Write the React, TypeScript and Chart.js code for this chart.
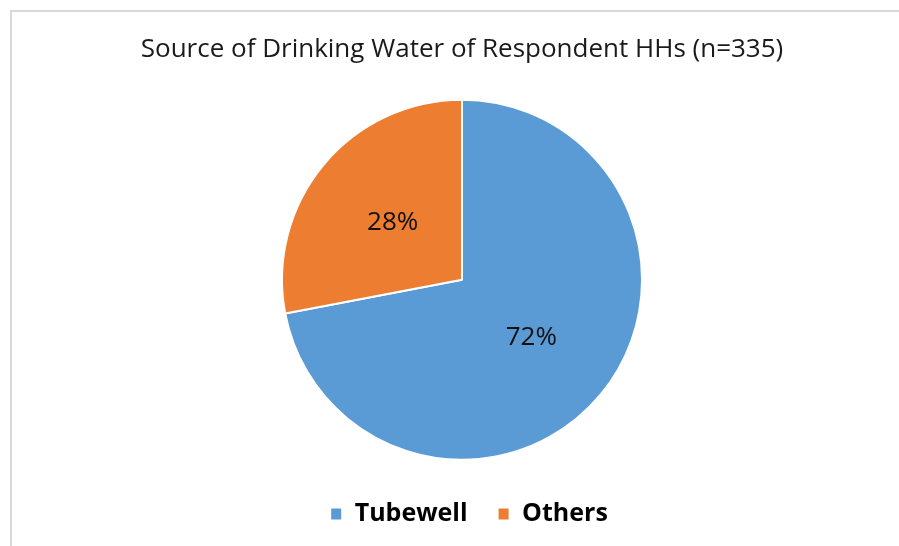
import React, { useEffect, useRef } from "react";
import { Chart, registerables } from "chart.js";

Chart.register(...registerables);

const categories = ["Tubewell", "Others"];
const shares = [72, 28];
const colors = ["#5B9BD5", "#ED7D31"];
const titleText = "Source of Drinking Water of Respondent HHs (n=335)";

const labelPlugin = {
  id: "sliceLabels",
  afterLayout(chart: any) {
    if (chart.legend) {
      chart.legend.left += 7;
      chart.legend.right += 7;
    }
  },
  afterDatasetsDraw(chart: any) {
    const { ctx } = chart;
    const meta = chart.getDatasetMeta(0);
    ctx.save();
    ctx.font = "26px 'Open Sans'";
    ctx.fillStyle = "#111111";
    ctx.textAlign = "center";
    ctx.textBaseline = "middle";
    meta.data.forEach((arc: any, i: number) => {
      const p = arc.tooltipPosition();
      ctx.fillText(shares[i] + "%", p.x, p.y);
    });
    ctx.restore();
  },
};

export default function App() {
  const ref = useRef<HTMLCanvasElement>(null);
  useEffect(() => {
    if (!ref.current) return;
    const chart = new Chart(ref.current, {
      type: "pie",
      data: {
        labels: categories,
        datasets: [
          {
            data: shares,
            backgroundColor: colors,
            borderColor: "#ffffff",
            borderWidth: 2,
            radius: 180,
          },
        ],
      },
      options: {
        responsive: false,
        animation: false,
        layout: { padding: { left: 25, right: 0, top: 34, bottom: 9.5 } },
        plugins: {
          tooltip: { enabled: false },
          title: {
            display: true,
            text: titleText,
            color: "#1a1a1a",
            font: { family: "'Open Sans'", size: 26, weight: "normal" },
            padding: { top: 0, bottom: 22.8 },
          },
          legend: {
            position: "bottom",
            labels: {
              color: "#000000",
              font: { family: "'Open Sans'", size: 25, weight: "bold" },
              boxWidth: 12,
              boxHeight: 13,
              padding: 30,
            },
          },
        },
      },
      plugins: [labelPlugin],
    });
    return () => chart.destroy();
  }, []);
  return (
    <div style={{ position: "absolute", left: 0, top: 0, width: 899, height: 546, background: "#ffffff", overflow: "hidden" }}>
      <div
        style={{
          position: "absolute",
          left: 10,
          top: 10,
          width: 889,
          height: 536,
          borderLeft: "2px solid #d9d9d9",
          borderTop: "2px solid #d9d9d9",
          boxSizing: "border-box",
        }}
      />
      <canvas ref={ref} width={899} height={546} style={{ position: "absolute", left: 0, top: 0 }} />
    </div>
  );
}
